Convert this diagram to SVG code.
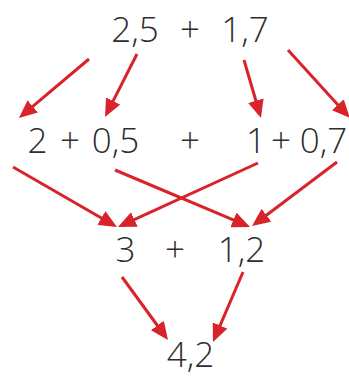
<svg xmlns="http://www.w3.org/2000/svg" width="349" height="378" viewBox="0 0 349 378">
<style>
text{font-family:"Open Sans","Liberation Sans",sans-serif;font-size:35px;font-weight:300;fill:#2e2e2e;text-anchor:middle}
.a{stroke:#d8232a;stroke-width:3;fill:none;marker-end:url(#ah)}
</style>
<defs>
<marker id="ah" markerUnits="userSpaceOnUse" markerWidth="18" markerHeight="16" refX="5" refY="8" orient="auto">
<path d="M0,0 L18,8 L0,16 z" fill="#d8232a"/>
</marker>
</defs>
<rect width="349" height="378" fill="#fff"/>
<g id="row1">
<text x="135" y="42">2,5</text><text x="190" y="42">+</text><text x="245" y="42">1,7</text>
</g>
<g id="row2">
<text x="37.5" y="153">2</text><text x="70" y="153">+</text><text x="115.5" y="153">0,5</text>
<text x="190" y="153">+</text>
<text x="256" y="153">1</text><text x="281" y="153">+</text><text x="323.5" y="153">0,7</text>
</g>
<g id="row3">
<text x="125.5" y="262">3</text><text x="175" y="262">+</text><text x="241.5" y="262">1,2</text>
</g>
<g id="row4">
<text x="190.5" y="367">4,2</text>
</g>
<g id="connectors">
<line class="a" x1="89" y1="59" x2="28.9" y2="109.6"/>
<line class="a" x1="137" y1="54" x2="110.9" y2="105.4"/>
<line class="a" x1="244" y1="60" x2="257.3" y2="105.5"/>
<line class="a" x1="288" y1="50" x2="341.2" y2="108.4"/>
<line class="a" x1="13" y1="167" x2="105.7" y2="220.5"/>
<line class="a" x1="115" y1="170" x2="238" y2="221.9"/>
<line class="a" x1="258" y1="163" x2="129.8" y2="221.6"/>
<line class="a" x1="337" y1="162" x2="262.4" y2="218.2"/>
<line class="a" x1="122" y1="277" x2="160.3" y2="329.5"/>
<line class="a" x1="243" y1="272" x2="218.1" y2="330.1"/>
</g>
</svg>
